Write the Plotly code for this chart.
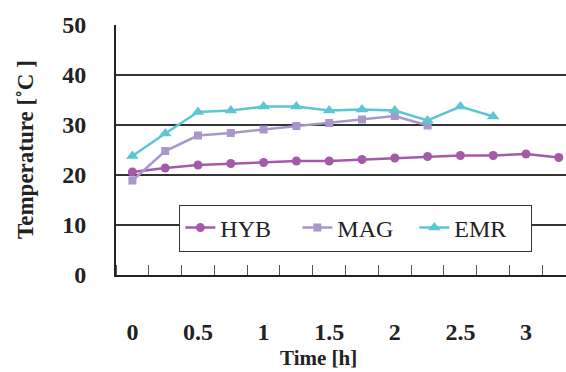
import plotly.graph_objects as go

time_h = [0, 0.25, 0.5, 0.75, 1.0, 1.25, 1.5, 1.75, 2.0, 2.25, 2.5, 2.75, 3.0, 3.25]
hyb = [20.6, 21.4, 22.0, 22.3, 22.5, 22.8, 22.8, 23.1, 23.4, 23.7, 23.9, 23.9, 24.2, 23.5]
mag = [18.9, 24.8, 27.9, 28.4, 29.1, 29.8, 30.4, 31.1, 31.8, 29.9]
emr = [23.8, 28.3, 32.6, 32.9, 33.7, 33.7, 32.9, 33.1, 32.9, 30.9, 33.7, 31.7]
x_ticks = [0, 0.5, 1, 1.5, 2, 2.5, 3]
y_ticks = [0, 10, 20, 30, 40, 50]

serif = "Liberation Serif, Times New Roman, serif"

fig = go.Figure()
fig.add_trace(go.Scatter(x=time_h[:len(hyb)], y=hyb, name="HYB", mode="lines+markers",
                         line=dict(color="#A45AA8", width=2.5),
                         marker=dict(symbol="circle", size=9, color="#A45AA8")))
fig.add_trace(go.Scatter(x=time_h[:len(mag)], y=mag, name="MAG", mode="lines+markers",
                         line=dict(color="#A897CB", width=2.5),
                         marker=dict(symbol="square", size=8, color="#A897CB")))
fig.add_trace(go.Scatter(x=time_h[:len(emr)], y=emr, name="EMR", mode="lines+markers",
                         line=dict(color="#5CC6D3", width=2.5),
                         marker=dict(symbol="triangle-up", size=11, color="#5CC6D3")))

fig.update_layout(
    width=566, height=372,
    margin=dict(l=116, r=0, t=25, b=97),
    paper_bgcolor="white", plot_bgcolor="white",
    font=dict(family=serif, color="#222"),
    showlegend=True,
    legend=dict(orientation="h", x=0.533, y=0.188, xanchor="center", yanchor="middle",
                bgcolor="white", bordercolor="#333", borderwidth=1,
                font=dict(family=serif, size=24, color="#222"),
                itemwidth=30, tracegroupgap=0,
                entrywidth=72, entrywidthmode="pixels"),
    xaxis=dict(range=[-0.125, 3.305], tickvals=x_ticks, ticktext=[str(v) for v in x_ticks],
               ticks="", showgrid=False, zeroline=False,
               showline=True, linecolor="#222", linewidth=2,
               tickfont=dict(family=serif, size=24, color="#222", weight="bold"),
               ticklabelstandoff=34,
               minor=dict(ticks="inside", tick0=0.125, dtick=0.25, ticklen=10,
                          tickcolor="#555", tickwidth=1, showgrid=False)),
    yaxis=dict(range=[0, 50], tickvals=y_ticks, ticks="", showgrid=True,
               gridcolor="#333", gridwidth=1.5, zeroline=False,
               showline=True, linecolor="#222", linewidth=2,
               tickfont=dict(family=serif, size=24, color="#222", weight="bold"),
               ticklabelstandoff=23),
    annotations=[
        dict(text="<b>Time [h]</b>", xref="paper", yref="paper", x=0.451, y=-0.332,
             xanchor="center", yanchor="middle", showarrow=False,
             font=dict(family=serif, size=21, color="#222")),
        dict(text="<b>Temperature [˚C ]</b>", xref="paper", yref="paper",
             x=(25 - 116) / 450, y=0.5, xanchor="center", yanchor="middle",
             textangle=-90, showarrow=False,
             font=dict(family=serif, size=23, color="#222")),
    ],
)

fig.write_html("out.html")
